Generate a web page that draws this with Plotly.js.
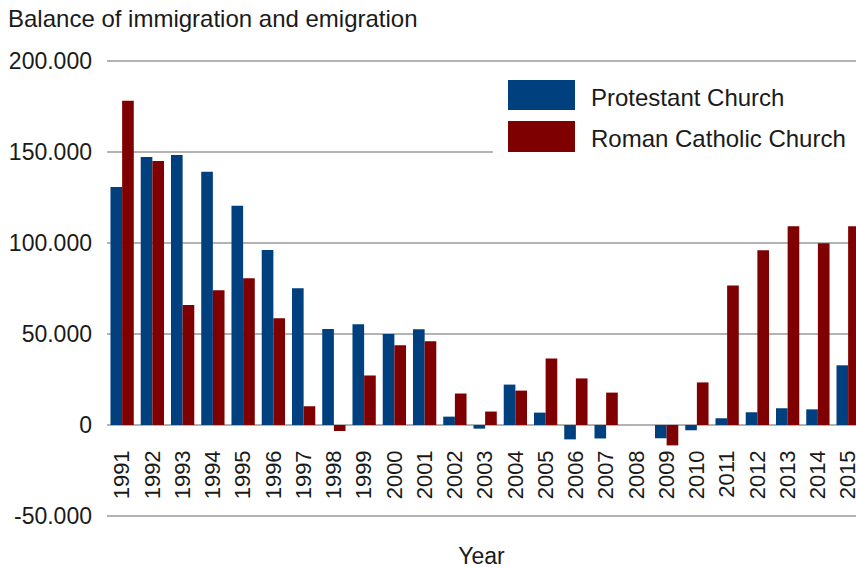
<!DOCTYPE html>
<html>
<head>
<meta charset="utf-8">
<script src="https://cdn.plot.ly/plotly-3.0.1.min.js"></script>
<style>html,body{margin:0;padding:0;background:#fff;}#chart{width:856px;height:569px;}</style>
</head>
<body>
<div id="chart"></div>
<script>
const years = ['1991','1992','1993','1994','1995','1996','1997','1998','1999','2000','2001','2002','2003','2004','2005','2006','2007','2008','2009','2010','2011','2012','2013','2014','2015'];
const protestant = [130800,147300,148400,139100,120400,96100,75200,52700,55300,50000,52600,4600,-2000,22200,6800,-7900,-7400,null,-7300,-2900,3700,7000,9200,8600,32800];
const catholic = [178200,145100,65900,74100,80700,58700,10300,-3300,27200,43800,46000,17300,7400,18900,36600,25600,17800,null,-11200,23400,76700,96000,109200,99800,109200];
const seriesNames = ['Protestant Church','Roman Catholic Church'];
const seriesColors = ['#00407f','#7f0000'];
const yTickVals = [-50000,0,50000,100000,150000,200000];
const yTickText = ['-50.000','0','50.000','100.000','150.000','200.000'];
const chartTitle = 'Balance of immigration and emigration';
const xTitle = 'Year';

const W = 856, H = 569;
const mL = 107, mR = 0, mT = 58, mB = 50;
const pw = W - mL - mR, ph = H - mT - mB;
const yRange = [-51650, 201650];
const xRange = [-0.5, 24.26];
const px2x = p => (p - mL) / pw;
const py2y = p => (H - mB - p) / ph;
const FONT = 'Liberation Sans, Arial, sans-serif';
const TXT = '#1a1a1a';

const traces = [
  {type:'bar', x: years, y: protestant, name: seriesNames[0], marker:{color: seriesColors[0]}},
  {type:'bar', x: years, y: catholic, name: seriesNames[1], marker:{color: seriesColors[1]}}
];

const shapes = [
  {type:'rect', xref:'paper', yref:'paper', x0: px2x(493), x1: px2x(858), y0: py2y(160), y1: py2y(66), fillcolor:'#ffffff', line:{width:0}, layer:'above'},
  {type:'rect', xref:'paper', yref:'paper', x0: px2x(508), x1: px2x(575), y0: py2y(110), y1: py2y(80), fillcolor: seriesColors[0], line:{width:0}, layer:'above'},
  {type:'rect', xref:'paper', yref:'paper', x0: px2x(508), x1: px2x(575), y0: py2y(152), y1: py2y(121), fillcolor: seriesColors[1], line:{width:0}, layer:'above'}
];
const annotations = [
  {xref:'paper', yref:'paper', x: px2x(589), y: py2y(97), xanchor:'left', yanchor:'middle', text: seriesNames[0], showarrow:false, font:{family:FONT, size:24, color:TXT}},
  {xref:'paper', yref:'paper', x: px2x(589), y: py2y(138), xanchor:'left', yanchor:'middle', text: seriesNames[1], showarrow:false, font:{family:FONT, size:24, color:TXT}}
];

const layout = {
  width: W, height: H,
  margin: {l: mL, r: mR, t: mT, b: mB, pad: 0},
  paper_bgcolor: '#ffffff', plot_bgcolor: '#ffffff',
  font: {family: FONT, color: TXT, size: 22},
  showlegend: false,
  barmode: 'group', bargap: 0.23, bargroupgap: 0,
  title: {text: chartTitle, xref:'container', yref:'container', x: 8/W, xanchor:'left', y: 1 - 19/H, yanchor:'middle', font:{family:FONT, size:24, color:TXT}},
  xaxis: {
    type:'category', range: xRange, anchor:'free', position: (0 - yRange[0]) / (yRange[1] - yRange[0]),
    tickangle: -90, ticks:'', showgrid:false, showline:false, zeroline:false,
    tickfont:{family:FONT, size:22, color:TXT}, ticklabelstandoff: 20,
    title:{text: xTitle, font:{family:FONT, size:23, color:TXT}, standoff: 50},
    automargin: false
  },
  yaxis: {
    range: yRange, tickvals: yTickVals, ticktext: yTickText,
    ticks:'', showline:false, showgrid:true, gridcolor:'#b3b3b3', gridwidth:2,
    zeroline:true, zerolinecolor:'#b3b3b3', zerolinewidth:2,
    tickfont:{family:FONT, size:23, color:TXT}, ticklabelstandoff: 14,
    automargin: false
  },
  shapes: shapes,
  annotations: annotations
};

Plotly.newPlot('chart', traces, layout, {displayModeBar:false, staticPlot:true});
</script>
</body>
</html>
